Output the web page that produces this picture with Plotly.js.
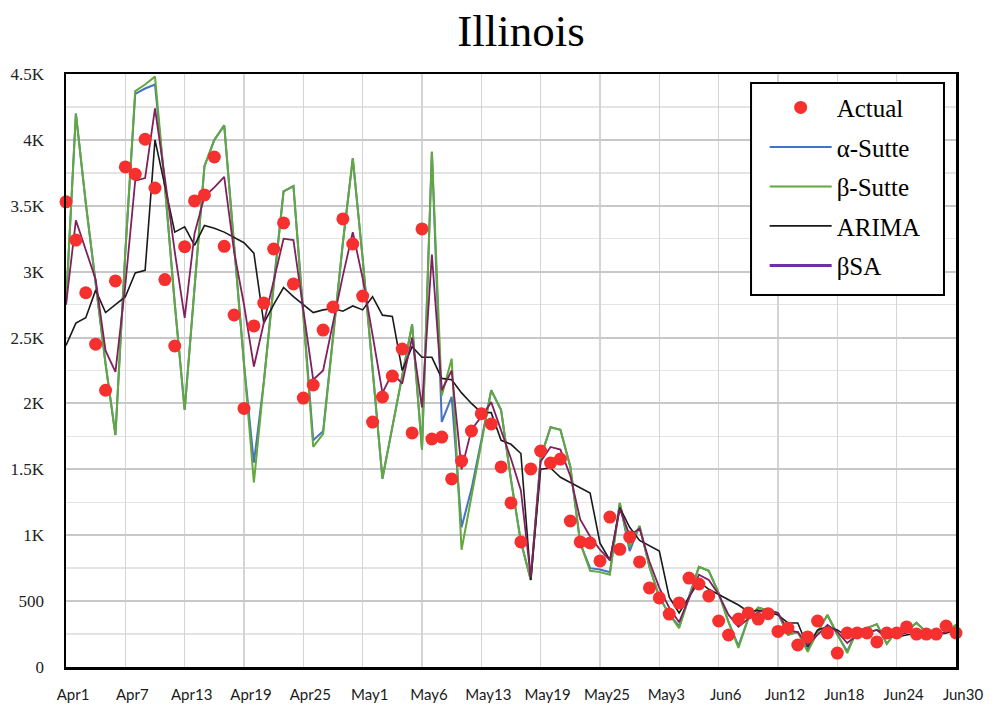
<!DOCTYPE html>
<html><head><meta charset="utf-8">
<script src="https://cdn.plot.ly/plotly-3.0.1.min.js"></script>
<style>html,body{margin:0;padding:0;background:#fff}#chart{width:1000px;height:706px}</style>
</head><body><div id="chart"></div>
<script>
// Day index 0 = Apr 1, 90 = Jun 30
const tickDays = [0, 6, 12, 18, 24, 30, 36, 42, 48, 54, 60, 66, 72, 78, 84, 90];
const tickLabels = ['Apr1','Apr7','Apr13','Apr19','Apr25','May1','May6','May13','May19','May25','May3','Jun6','Jun12','Jun18','Jun24','Jun30'];
const yTickVals = [0, 500, 1000, 1500, 2000, 2500, 3000, 3500, 4000, 4500];
const yTickText = ['0','500','1K','1.5K','2K','2.5K','3K','3.5K','4K','4.5K'];

const actual = [3530,3240,2840,2450,2100,2930,3795,3740,4005,3635,
  2940,2436,3190,3537,3582,3870,3192,2671,1962,2588,
  2762,3172,3370,2907,2041,2140,2557,2732,3400,3210,
  2815,1859,2049,2208,2413,1776,3324,1730,1745,1427,
  1563,1791,1922,1844,1518,1245,949,1503,1639,1548,
  1578,1108,949,941,805,1138,893,987,797,600,
  524,402,486,675,630,539,349,243,364,410,
  364,405,270,296,167,228,349,258,106,258,
  258,258,190,258,258,304,250,250,250,311,258];

const alphaSutte = [2750,4200,3520,2910,2300,1760,3150,4350,4390,4420,
  3650,2755,1950,2880,3800,4000,4110,3200,2300,1550,
  2160,2910,3610,3650,2660,1720,1790,2500,3220,3860,
  3100,2260,1430,1820,2220,2600,1650,3910,1860,2050,
  1060,1350,1720,2100,1950,1420,950,660,1590,1820,
  1800,1520,940,750,740,720,1245,880,1070,760,
  530,400,310,530,760,730,560,340,160,370,
  450,430,410,245,265,130,265,395,245,120,
  280,295,325,175,275,275,335,265,250,258,320];

const betaSutte = [2750,4200,3520,2910,2300,1760,3150,4370,4420,4480,
  3650,2755,1950,2880,3800,4000,4110,3200,2300,1400,
  2160,2910,3610,3650,2660,1670,1770,2500,3220,3860,
  3100,2260,1430,1820,2220,2600,1650,3910,2060,2340,
  890,1300,1720,2100,1950,1420,950,660,1590,1820,
  1800,1520,940,730,720,700,1245,910,1070,760,
  530,400,295,530,760,730,560,340,145,370,
  450,430,410,245,265,115,265,395,245,105,
  280,295,325,175,275,275,335,265,250,258,320];

const arima = [2440,2610,2650,2860,2690,2750,2810,2990,3010,4000,
  3640,3300,3340,3200,3350,3330,3300,3260,3220,3140,
  2610,2750,2880,2810,2750,2690,2710,2720,2700,2740,
  2710,2810,2670,2660,2250,2430,2350,2350,2190,2180,
  2080,2000,1930,1930,1720,1690,1620,660,1500,1510,
  1440,1400,1360,1320,940,810,1210,1060,960,920,
  880,530,410,530,650,590,550,510,470,420,
  430,417,395,334,334,152,281,304,281,228,
  258,266,281,243,228,243,258,243,250,258,281];

const betaSA = [2750,3390,3165,2940,2400,2240,2900,3690,3710,4240,
  3710,3150,2650,3290,3570,3640,3720,3150,2750,2280,
  2610,2940,3250,3240,2710,2180,2250,2620,2970,3300,
  2950,2520,2080,2230,2150,2500,1970,3130,2100,2250,
  1500,1800,1900,2010,1800,1580,1340,680,1560,1670,
  1650,1450,1120,990,890,810,1200,1000,1050,800,
  600,450,340,520,700,660,550,395,305,365,
  417,433,410,280,265,167,243,320,266,182,
  243,258,281,220,243,258,281,258,243,266,296];

const days = actual.map((_, i) => i);

const serif = 'Liberation Serif, Times New Roman, serif';

function lineTrace(name, y, color, width, rank, showlegend) {
  return {
    type: 'scatter', mode: 'lines', name: name, x: days, y: y,
    line: {color: color, width: width},
    legendrank: rank, legendgroup: name, showlegend: showlegend, hoverinfo: 'skip'
  };
}

const traces = [
  lineTrace('α-Sutte', alphaSutte, '#4472c4', 2, 2, true),
  lineTrace('β-Sutte', betaSutte, '#62a83a', 2, 3, true),
  lineTrace('ARIMA', arima, '#1a1a1a', 1.6, 4, true),
  lineTrace('βSA', betaSA, '#80205e', 1.8, 5, false),
  {type: 'scatter', mode: 'lines', name: 'βSA', x: [null], y: [null],
   line: {color: '#7030a0', width: 3}, legendrank: 5, legendgroup: 'βSA', showlegend: true},
  {type: 'scatter', mode: 'markers', name: 'Actual', x: days, y: actual,
   marker: {color: '#f5302e', size: 13}, cliponaxis: false,
   legendrank: 1, legendgroup: 'Actual', hoverinfo: 'skip'}
];

const layout = {
  width: 1000, height: 706,
  margin: {l: 66, r: 44, t: 74, b: 39},
  paper_bgcolor: '#fff', plot_bgcolor: '#fff',
  title: {text: 'Illinois', font: {family: serif, size: 45, color: '#000'},
          x: 0.521, xref: 'container', xanchor: 'center',
          y: 0.957, yref: 'container', yanchor: 'middle'},
  xaxis: {
    range: [0, 90], tickvals: tickDays, ticktext: tickLabels,
    showgrid: true, gridcolor: '#d4d4d4', gridwidth: 1.5,
    showline: true, linecolor: '#000', linewidth: 2.5, mirror: true,
    ticks: '', zeroline: false, ticklabelstandoff: 12, ticklabelshift: 7,
    tickfont: {family: 'Lato, sans-serif', size: 15, color: '#1a1a1a'}
  },
  yaxis: {
    range: [0, 4500], tickvals: yTickVals, ticktext: yTickText,
    showgrid: true, gridcolor: '#c8c8c8', gridwidth: 2,
    minor: {tickvals: [250,750,1250,1750,2250,2750,3250,3750,4250], showgrid: true, gridcolor: '#e4e4e4', gridwidth: 1.5},
    showline: true, linecolor: '#000', linewidth: 2.5, mirror: true,
    ticks: '', zeroline: false, ticklabelstandoff: 16,
    tickfont: {family: serif, size: 17, color: '#222'}
  },
  shapes: [{type: 'rect', xref: 'paper', yref: 'paper', layer: 'above',
            x0: 0.7697, x1: 0.9865, y0: 0.6273, y1: 0.9848,
            fillcolor: '#fff', line: {color: '#000', width: 2}}],
  legend: {
    x: 0.785, xanchor: 'left', y: 0.982, yanchor: 'top',
    bgcolor: 'rgba(0,0,0,0)', borderwidth: 0,
    traceorder: 'grouped', tracegroupgap: 4, itemwidth: 62,
    font: {family: serif, size: 25, color: '#000'}
  },
  showlegend: true
};

Plotly.newPlot('chart', traces, layout, {displayModeBar: false, staticPlot: true});
</script>
</body></html>
